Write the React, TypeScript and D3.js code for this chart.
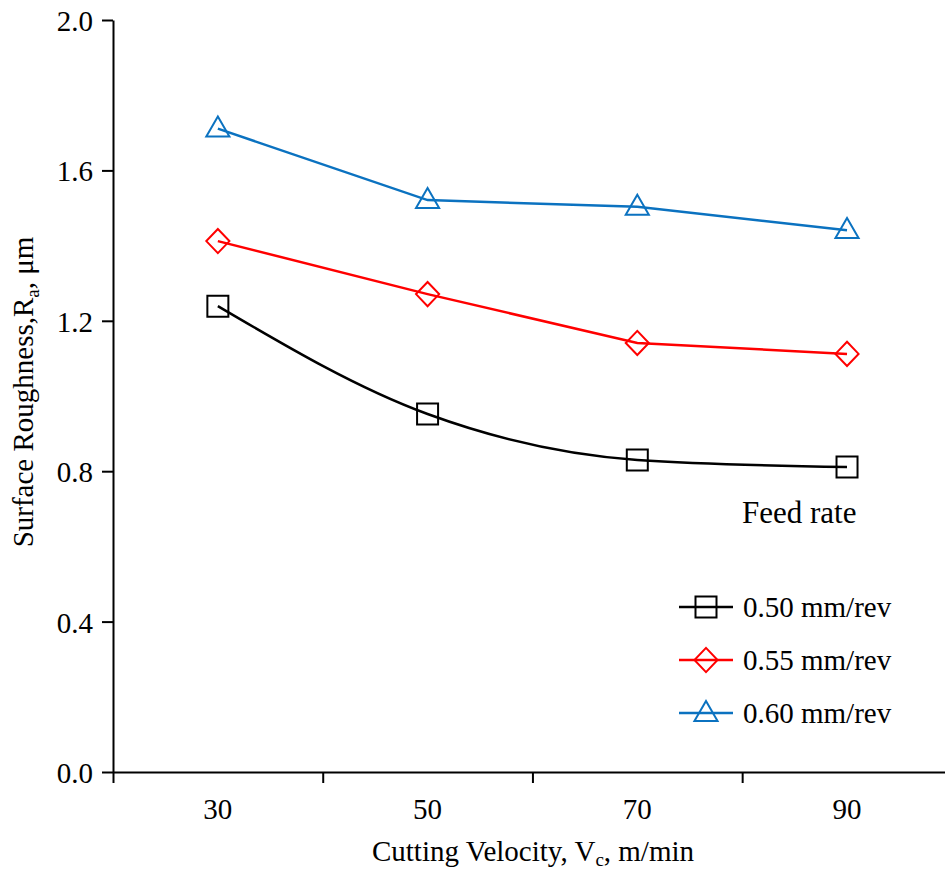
import React, { useEffect, useRef } from "react";
import * as d3 from "d3";

const width = 945;
const height = 874;
const margin = { top: 20, right: 0, bottom: 102, left: 113 };

// data
const velocity = [30, 50, 70, 90];
const feedRates = ["0.50 mm/rev", "0.55 mm/rev", "0.60 mm/rev"];
const ra050 = [1.239, 0.952, 0.83, 0.811];
const ra055 = [1.412, 1.271, 1.141, 1.112];
const ra060 = [1.711, 1.521, 1.503, 1.441];
const yTicks = [0, 0.4, 0.8, 1.2, 1.6, 2.0];
const xTickMarks = [20, 40, 60, 80, 100];
const xLabels = [30, 50, 70, 90];

const colors = ["#000000", "#ff0000", "#0b72c0"];
const markers = ["square", "diamond", "triangle"];
const font = "'Liberation Serif', 'Times New Roman', serif";

function markerPath(kind: string, r: number) {
  if (kind === "square") return `M${-r},${-r}H${r}V${r}H${-r}Z`;
  if (kind === "diamond") return `M0,${-r * 1.15}L${r * 1.1},0L0,${r * 1.15}L${-r * 1.1},0Z`;
  return `M0,${-r * 1.15}L${r * 1.1},${r * 0.75}L${-r * 1.1},${r * 0.75}Z`;
}

export default function App() {
  const ref = useRef<SVGSVGElement>(null);

  useEffect(() => {
    const svg = d3.select(ref.current);
    svg.selectAll("*").remove();

    const xScale = d3.scaleLinear().domain([20, 100]).range([margin.left, margin.left + 80 * 10.486]);
    const yScale = d3.scaleLinear().domain([0, 2]).range([height - margin.bottom, margin.top]);

    // ------- axes -------
    const xAxis = d3.axisBottom(xScale)
      .tickValues(xTickMarks)
      .tickSize(11)
      .tickSizeOuter(0)
      .tickFormat(() => "");
    const gx = svg.append("g")
      .attr("transform", `translate(0,${height - margin.bottom})`)
      .call(xAxis);
    gx.select(".domain").attr("stroke-width", 2);
    gx.selectAll(".tick line").attr("stroke-width", 2);

    svg.append("g")
      .selectAll("text")
      .data(xLabels)
      .join("text")
      .attr("x", d => xScale(d))
      .attr("y", 819)
      .attr("text-anchor", "middle")
      .attr("font-family", font)
      .attr("font-size", 29)
      .text(d => d);

    const yAxis = d3.axisLeft(yScale)
      .tickValues(yTicks)
      .tickSize(11)
      .tickSizeOuter(0)
      .tickFormat(d3.format(".1f"));
    const gy = svg.append("g")
      .attr("transform", `translate(${margin.left},0)`)
      .call(yAxis);
    gy.select(".domain").attr("stroke-width", 2);
    gy.selectAll(".tick line").attr("stroke-width", 2);
    gy.selectAll(".tick text")
      .attr("font-family", font)
      .attr("font-size", 29)
      .attr("x", -20)
      .attr("dy", "0.36em")
      .attr("fill", "#000");

    // axis titles
    const xt = svg.append("text")
      .attr("x", 533)
      .attr("y", 861)
      .attr("text-anchor", "middle")
      .attr("font-family", font)
      .attr("font-size", 29);
    xt.append("tspan").text("Cutting Velocity, V");
    xt.append("tspan").attr("font-size", 19).attr("dy", 5).text("c");
    xt.append("tspan").attr("dy", -5).text(", m/min");

    const yt = svg.append("text")
      .attr("transform", `translate(33,392) rotate(-90)`)
      .attr("text-anchor", "middle")
      .attr("font-family", font)
      .attr("font-size", 29);
    yt.append("tspan").text("Surface Roughness,R");
    yt.append("tspan").attr("font-size", 19).attr("dy", 6).text("a");
    yt.append("tspan").attr("dy", -6).text(", μm");

    // ------- series -------
    const series = [ra050, ra055, ra060];
    const curves = [d3.curveMonotoneX, d3.curveLinear, d3.curveLinear];

    series.forEach((vals, i) => {
      const line = d3.line<number>()
        .x((d, j) => xScale(velocity[j]))
        .y(d => yScale(d))
        .curve(curves[i]);

      svg.append("path")
        .attr("d", line(vals))
        .attr("fill", "none")
        .attr("stroke", colors[i])
        .attr("stroke-width", 2.5);

      svg.append("g")
        .selectAll("path")
        .data(vals)
        .join("path")
        .attr("transform", (d, j) => `translate(${xScale(velocity[j])},${yScale(d)})`)
        .attr("d", markerPath(markers[i], 10.5))
        .attr("fill", "none")
        .attr("stroke", colors[i])
        .attr("stroke-width", 2);
    });

    // ------- legend -------
    svg.append("text")
      .attr("x", 742)
      .attr("y", 523)
      .attr("font-family", font)
      .attr("font-size", 31)
      .text("Feed rate");

    const legend = svg.append("g")
      .selectAll("g")
      .data(feedRates)
      .join("g")
      .attr("transform", (d, i) => `translate(0,${607 + i * 53})`);

    legend.append("line")
      .attr("x1", 679)
      .attr("x2", 733)
      .attr("stroke", (d, i) => colors[i])
      .attr("stroke-width", 2.5);
    legend.append("path")
      .attr("transform", "translate(706,0)")
      .attr("d", (d, i) => markerPath(markers[i], 10.5))
      .attr("fill", "none")
      .attr("stroke", (d, i) => colors[i])
      .attr("stroke-width", 2);
    legend.append("text")
      .attr("x", 743)
      .attr("y", 10)
      .attr("font-family", font)
      .attr("font-size", 29)
      .text(d => d);
  }, []);

  return (
    <svg
      ref={ref}
      width={width}
      height={height}
      style={{ position: "absolute", left: 0, top: 0, background: "#fff" }}
    />
  );
}
